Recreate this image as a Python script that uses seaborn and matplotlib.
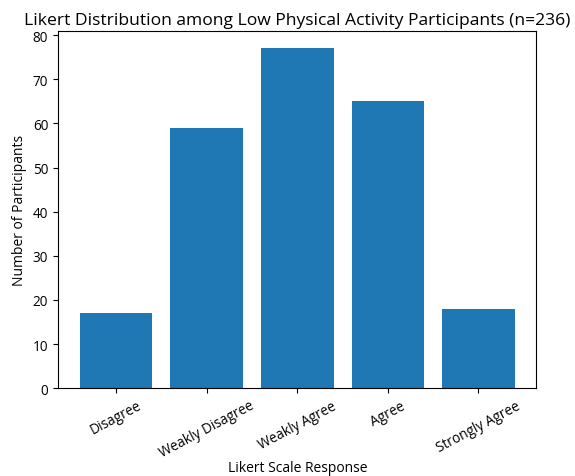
import numpy as np
import pandas as pd
import matplotlib
matplotlib.use('Agg')
import matplotlib.pyplot as plt
import seaborn as sns

categories = ['Disagree', 'Weakly Disagree', 'Weakly Agree', 'Agree', 'Strongly Agree']
counts = [17, 59, 77, 65, 18]

df = pd.DataFrame({'response': categories, 'count': counts})

plt.rcParams['font.family'] = ['Open Sans', 'DejaVu Sans']

fig = plt.figure(figsize=(5.75, 4.77), dpi=100)
ax = fig.add_axes([0.101, 0.184, 0.832, 0.748])
sns.barplot(data=df, x='response', y='count', color='#1f77b4', saturation=1, width=0.8, ax=ax)
ax.set_xlim(-0.64, 4.64)
ax.set_ylim(0, 80.85)
ax.set_yticks(range(0, 81, 10))
ax.set_title('Likert Distribution among Low Physical Activity Participants (n=236)', fontsize=12.6, pad=5)
ax.set_xlabel('Likert Scale Response', fontsize=10)
ax.set_ylabel('Number of Participants', fontsize=10)
ax.tick_params(axis='both', labelsize=9.8)
plt.setp(ax.get_xticklabels(), rotation=28)
ax.xaxis.set_label_coords(0.5, -0.2)

fig.savefig('out.png', dpi=100)
